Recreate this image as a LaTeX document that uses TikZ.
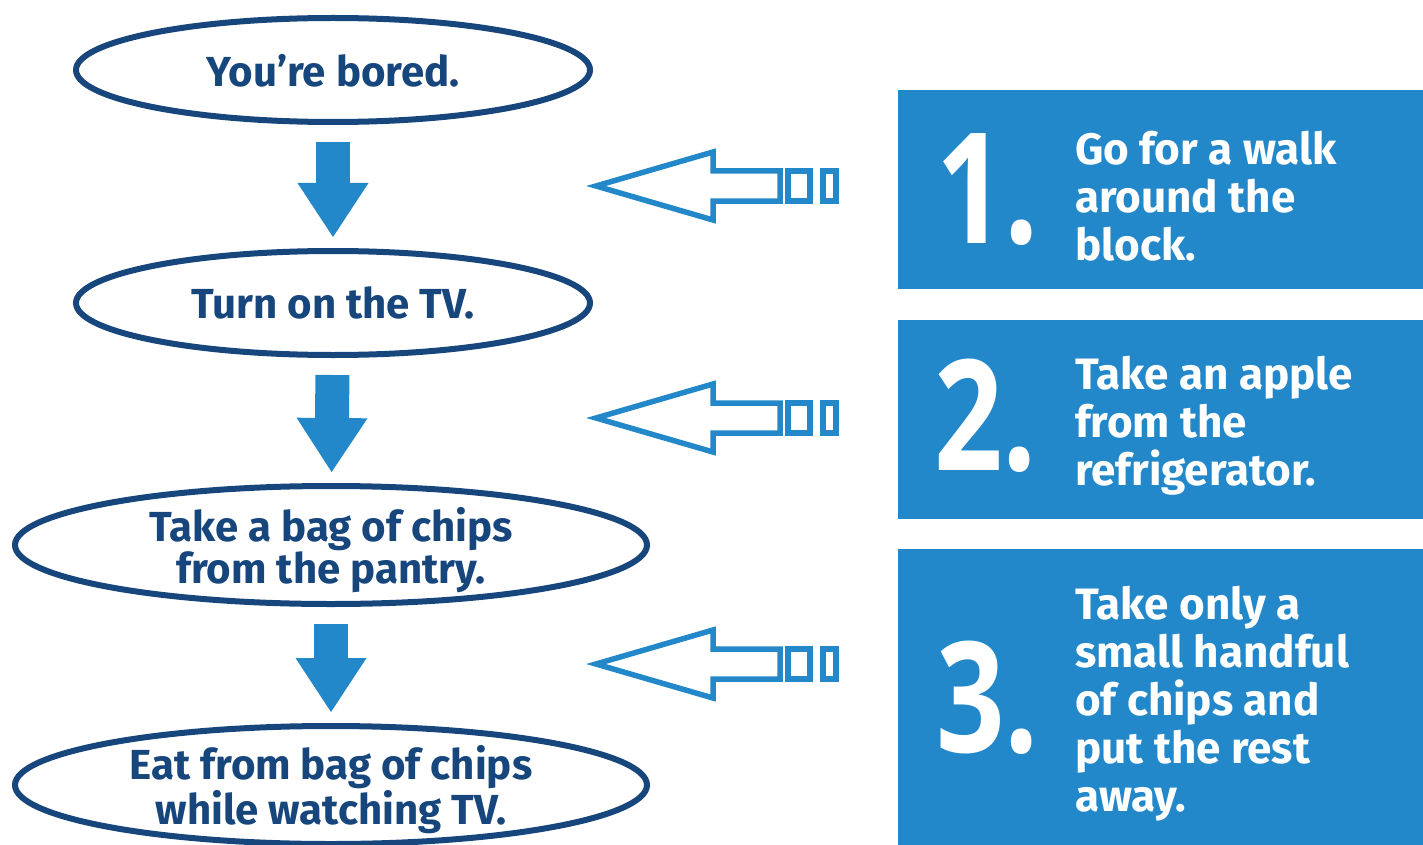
\documentclass[tikz,border=0pt]{standalone}
\usepackage{fontspec}
\setmainfont{Fira Sans}
\newfontfamily\numfont{Open Sans}
\usepackage{xcolor}
\usepackage{graphicx}
\usetikzlibrary{arrows.meta,positioning,calc,shapes.geometric}
\definecolor{Navy}{HTML}{17467C}
\definecolor{Sky}{HTML}{2288CA}
\tikzset{
  event/.style={ellipse, draw=Navy, line width=6pt, text=Navy, align=center, inner sep=0pt,
    text depth=0pt, font=\bfseries\fontsize{42}{42}\selectfont},
  flow/.style={Sky, line width=34pt, -{Triangle[length=54pt, width=71pt, line width=0pt]},
    shorten <=17pt, shorten >=11pt},
  tipbox/.style={fill=Sky, minimum width=525pt, anchor=north west, inner sep=0pt},
  tipnum/.style={text=white, anchor=base west, inner sep=0pt,
    font=\numfont\bfseries\fontsize{154}{154}\selectfont},
  tiptxt/.style={text=white, anchor=west, align=left, inner sep=0pt,
    font=\bfseries\fontsize{44}{48}\selectfont}
}
\newcommand{\hintarrow}[1]{
  \begin{scope}[shift={(#1)}, Sky, line width=5.5pt]
    \draw (0,0) -- (117,-34) -- (117,-15) -- (184,-15) -- (184,15) -- (117,15) -- (117,34) -- cycle;
    \draw (192,-15) rectangle (214,15);
    \draw (227,-15) rectangle (240,15);
  \end{scope}
}
\newcommand{\bignum}[1]{\scalebox{0.78}[1]{#1}}

\begin{document}
\begin{tikzpicture}[x=1pt, y=-1pt]
        \useasboundingbox (0,0) rectangle (1423,845);
        % chain of habits
        \node[event, minimum width=514pt, minimum height=104pt] (e1) at (333,70) {You’re bored.};
        \node[event, minimum width=514pt, minimum height=104pt] (e2) at (333,303) {Turn on the TV.};
        \node[event, minimum width=632pt, minimum height=118pt] (e3) at (331,545) {Take a bag of chips\\from the pantry.};
        \node[event, minimum width=632pt, minimum height=118pt] (e4) at (331,785) {Eat from bag of chips\\while watching TV.};
        \draw[flow] (e1) -- (e2);
        \draw[flow] (e2) -- (e3);
        \draw[flow] (e3) -- (e4);
        % better choices
        \node[tipbox, minimum height=199pt] (b1) at (898,90) {};
        \node[tipbox, minimum height=199pt] (b2) at (898,320) {};
        \node[tipbox, minimum height=296pt] (b3) at (898,549) {};
        \node[tipnum] (n1) at ($(b1.west)+(38,54)$) {\bignum{1.}};
        \node[tipnum] (n2) at ($(b2.west)+(36,51)$) {\bignum{2.}};
        \node[tipnum] (n3) at ($(b3.west)+(38,55)$) {\bignum{3.}};
        \node[tiptxt] (s1) at ($(b1.west)+(177,6)$) {Go for a walk\\around the\\block.};
        \node[tiptxt] (s2) at ($(b2.west)+(177,6)$) {Take an apple\\from the\\refrigerator.};
        \node[tiptxt] (s3) at ($(b3.west)+(177,6)$) {Take only a\\small handful\\of chips and\\put the rest\\away.};
        \coordinate (h1) at (596,186);
        \coordinate (h2) at (596,418);
        \coordinate (h3) at (596,664);
        \hintarrow{h1}
        \hintarrow{h2}
        \hintarrow{h3}
      \end{tikzpicture}
\end{document}
